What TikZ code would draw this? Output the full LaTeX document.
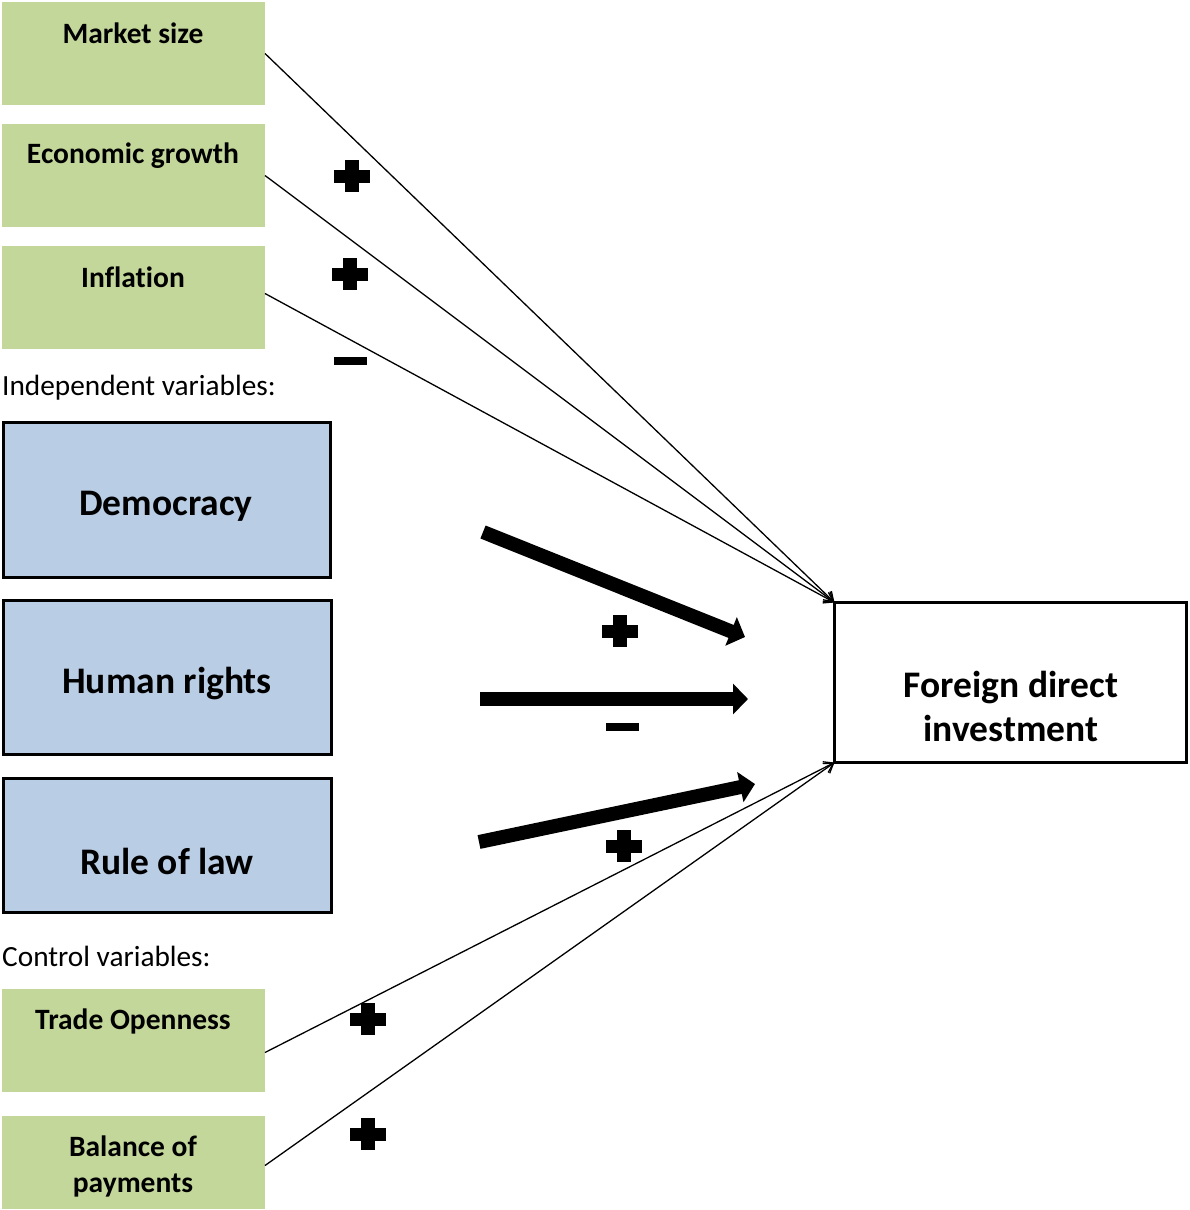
\documentclass[tikz,border=0pt]{standalone}
\usepackage{fontspec}
\setmainfont{Carlito}[Ligatures=NoCommon]
\usetikzlibrary{arrows.meta}
\definecolor{boxgreen}{HTML}{C4D79B}
\definecolor{boxblue}{HTML}{B9CDE5}
\tikzset{
  greenbox/.style={rectangle, fill=boxgreen, draw=none, inner sep=0pt, outer sep=0pt, minimum width=263pt},
  bluebox/.style={rectangle, fill=boxblue, draw=black, line width=3pt, inner sep=0pt, outer sep=0pt},
  gtext/.style={font=\fontsize{29.5}{36}\selectfont\bfseries, align=center, inner sep=0pt},
  btext/.style={font=\fontsize{37.5}{44}\selectfont\bfseries, align=center, inner sep=0pt},
  plaintext/.style={font=\fontsize{29.3}{35}\selectfont, anchor=west, inner sep=0pt},
  thin/.style={line width=1.3pt, -{Straight Barb[length=9pt,width=12pt]}},
  fat/.style={line width=14pt, -{Triangle[length=15pt,width=30pt]}},
  pluspic/.pic={\fill (-18,-6.5) rectangle (18,6.5); \fill (-7,-16) rectangle (7,16);},
  minuspic/.pic={\fill (-16.5,-4) rectangle (16.5,4);}
}
\begin{document}
\begin{tikzpicture}[x=1pt,y=-1pt]
\useasboundingbox (0,0) rectangle (1190,1210);
% green boxes
\node[greenbox, minimum height=103pt] (ms) at (133.5,53.5) {};
\node[greenbox, minimum height=103pt] (eg) at (133.5,175.5) {};
\node[greenbox, minimum height=103pt] (inf) at (133.5,297.5) {};
\node[greenbox, minimum height=103pt] (to) at (133.5,1040.5) {};
\node[greenbox, minimum height=93pt] (bp) at (133.5,1162.5) {};
\node[gtext] (msl) at (133,33) {Market size};
\node[gtext] (egl) at (133,156) {Economic growth};
\node[gtext] (infl) at (133,277) {Inflation};
\node[gtext] (tol) at (133,1021) {Trade Openness};
\node[gtext] (bpl) at (133,1166) {Balance of\\payments};
% labels
\node[plaintext] (iv) at (2,388) {Independent variables:};
\node[plaintext] (cv) at (2,956) {Control variables:};
% blue boxes
\node[bluebox, minimum width=327pt, minimum height=155pt] (dem) at (166.5,499.5) {};
\node[bluebox, minimum width=328pt, minimum height=154pt] (hr) at (167.5,677.5) {};
\node[bluebox, minimum width=328pt, minimum height=134pt] (rol) at (167.5,845.5) {};
\node[btext] (deml) at (166,506) {Democracy};
\node[btext] (hrl) at (167,684) {Human rights};
\node[btext] (roll) at (167,861) {Rule of law};
% FDI
\node[rectangle, draw=black, fill=white, line width=3pt, inner sep=0pt, outer sep=0pt, minimum width=352pt, minimum height=160pt] (fdi) at (1010.5,682.5) {};
\node[btext] (fdil) at (1011,706) {Foreign direct\\investment};
% thin connectors
\draw[thin] (ms.east) -- (fdi.north west);
\draw[thin] (eg.east) -- (fdi.north west);
\draw[thin] ([yshift=4pt]inf.east) -- (fdi.north west);
\draw[thin] ([yshift=-12pt]to.east) -- (fdi.south west);
\draw[thin] ([yshift=-3pt]bp.east) -- (fdi.south west);
% fat arrows
\coordinate (d1) at (483,532); \coordinate (d2) at (745,637);
\coordinate (h1) at (480,699); \coordinate (h2) at (748,699);
\coordinate (r1) at (479,842); \coordinate (r2) at (755,784);
\draw[fat] (d1) -- (d2);
\draw[fat] (h1) -- (h2);
\draw[fat] (r1) -- (r2);
% signs
\pic at (352,176) {pluspic};
\pic at (350,274) {pluspic};
\pic at (350,361) {minuspic};
\pic at (620,631) {pluspic};
\pic at (622,727) {minuspic};
\pic at (624,846) {pluspic};
\pic at (368,1019) {pluspic};
\pic at (368,1134) {pluspic};
\end{tikzpicture}
\end{document}
